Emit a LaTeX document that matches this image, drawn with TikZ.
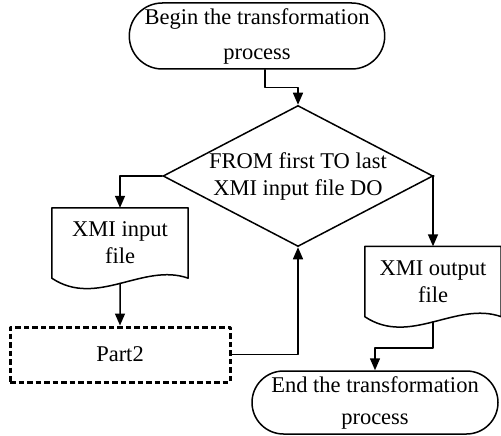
\documentclass[tikz,border=0pt]{standalone}
\usepackage{fontspec}
\setmainfont{Liberation Serif}
\usetikzlibrary{shapes.geometric,shapes.misc,arrows.meta}

\begin{document}
\begin{tikzpicture}[line cap=round,line join=round,>={Triangle[length=12pt,width=10pt]},x=1pt,y=-1pt,
	every node/.style={font=\fontsize{22.5}{27}\selectfont,align=center,inner sep=0pt},
	term/.style={draw,line width=1.5pt,rounded rectangle,minimum width=245pt,minimum height=66pt},
	cond/.style={draw,line width=1.5pt,diamond,shape aspect=1.93,inner sep=-3pt,minimum width=270pt,minimum height=141pt},
	docu/.style={minimum width=136pt,minimum height=70pt},
	part/.style={draw,line width=3pt,line cap=butt,dash pattern=on 5.5pt off 3pt,minimum width=220pt,minimum height=55pt},
	link/.style={line width=1.5pt,->}]
			\useasboundingbox (0,0) rectangle (501,436);
			\node[term,font=\fontsize{22.5}{35}\selectfont] (begin) at (257,36) {Begin the transformation\\process};
			\node[cond] (loop) at (298,176) {FROM first TO last\\XMI input file DO};
			\node[docu] (in) at (120,243) {XMI input\\file};
			\node[part] (part) at (120,354.5) {Part2};
			\node[docu] (out) at (433,281.5) {XMI output\\file};
			\node[term,minimum width=246pt,minimum height=63pt,font=\fontsize{22.5}{32}\selectfont] (end) at (375,402.5) {End the transformation\\process};
			\draw[line width=1.5pt] (in.south east) -- (in.north east) -- (in.north west) -- (in.south west) .. controls +(45,30) and +(-45,-16) .. coordinate[pos=.5] (inwave) (in.south east);
			\draw[line width=1.5pt] (out.south east) -- (out.north east) -- (out.north west) -- (out.south west) .. controls +(45,30) and +(-45,-16) .. coordinate[pos=.5] (outwave) (out.south east);
			\draw[link] ([xshift=8pt]begin.south) -- ++(0,18) -| (loop.north);
			\draw[link] (loop.west) -| (in.north);
			\draw[link] (inwave) -- (part.north);
			\draw[link] (part.east) -| (loop.south);
			\draw[link] (loop.east) -| (out.north);
			\draw[link] (outwave) -- ++(0,26) -| (end.north);
		\end{tikzpicture}
\end{document}
